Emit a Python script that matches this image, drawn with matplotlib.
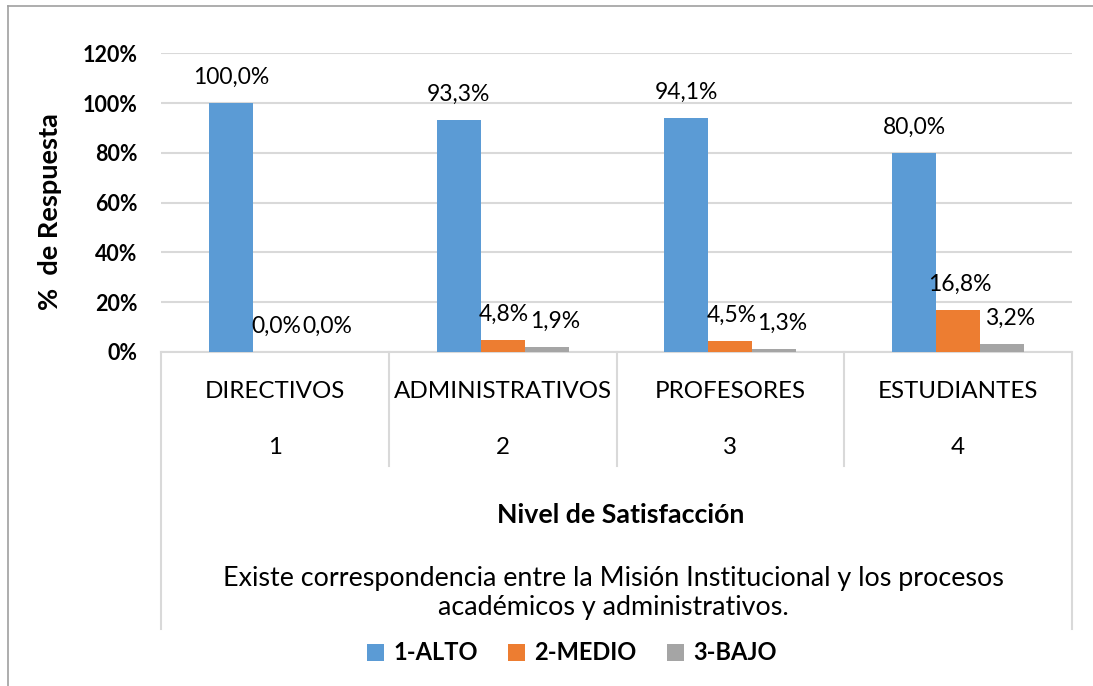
import matplotlib
matplotlib.use("Agg")
import matplotlib.pyplot as plt
import matplotlib.transforms as mtransforms
from matplotlib.lines import Line2D
import numpy as np

plt.rcParams['font.family'] = ['Lato', 'DejaVu Sans']

categories = ["DIRECTIVOS", "ADMINISTRATIVOS", "PROFESORES", "ESTUDIANTES"]
cat_numbers = ["1", "2", "3", "4"]
series_names = ["1-ALTO", "2-MEDIO", "3-BAJO"]
alto = [100.0, 93.3, 94.1, 80.0]
medio = [0.0, 4.8, 4.5, 16.8]
bajo = [0.0, 1.9, 1.3, 3.2]
yticks = [0, 20, 40, 60, 80, 100, 120]
colors = ["#5B9BD5", "#ED7D31", "#A5A5A5"]

W, H = 1093, 686
fig = plt.figure(figsize=(W / 100, H / 100), dpi=100)

def fx(x):
    return x / W

def fy(y):
    return 1 - y / H

ax = fig.add_axes([fx(161), fy(352), fx(1072) - fx(161), fy(53.3) - fy(352)])

x = np.arange(len(categories))
bw = 0.193
series = [alto, medio, bajo]
label_dx = [0, 1, 6]  # small horizontal nudges (points) per series, like the original
bars = []
for i, (vals, col, name) in enumerate(zip(series, colors, series_names)):
    b = ax.bar(x + (i - 1) * bw, vals, width=bw, color=col, label=name, zorder=3)
    bars.append(b)
    for xi, v in zip(x + (i - 1) * bw, vals):
        ax.annotate(f"{v:.1f}%".replace(".", ","), xy=(xi, v), xytext=(label_dx[i], 18.5),
                    textcoords="offset points", ha="center", va="center",
                    fontsize=16.5, color="#000000", zorder=4)

ax.set_xlim(-0.5, 3.5)
ax.set_ylim(0, 120)
ax.set_yticks(yticks)
ax.set_yticklabels([f"{t}%" for t in yticks], fontsize=15.5, fontweight="bold")
ax.tick_params(axis="y", length=0, pad=17)
ax.set_xticks([])
ax.grid(axis="y", color="#D9D9D9", linewidth=1.5, zorder=0)
for s in ["top", "right", "left"]:
    ax.spines[s].set_visible(False)
ax.spines["bottom"].set_color("#D9D9D9")
ax.spines["bottom"].set_linewidth(1.5)

# multi-level category axis
bt = mtransforms.blended_transform_factory(ax.transData, fig.transFigure)
bounds = np.arange(len(categories) + 1) - 0.5
for k, bx in enumerate(bounds):
    ybot = 629 if k in (0, len(bounds) - 1) else 466
    fig.add_artist(Line2D([bx, bx], [fy(352), fy(ybot)], transform=bt,
                          color="#D9D9D9", linewidth=1.5))
for xi, lab, num in zip(x, categories, cat_numbers):
    fig.text(xi, fy(391), lab, transform=bt, ha="center", va="center", fontsize=17.4)
    fig.text(xi, fy(447), num, transform=bt, ha="center", va="center", fontsize=17.4)

fig.text(fx(620.5), fy(515), "Nivel de Satisfacción", ha="center", va="center",
         fontsize=19.3, fontweight="bold")
fig.text(fx(613.5), fy(593), "Existe correspondencia entre la Misión Institucional y los procesos\nacadémicos y administrativos.",
         ha="center", va="center", fontsize=19.4, linespacing=1.2)

fig.text(fx(50), fy(212), "%  de Respuesta", rotation=90, ha="center", va="center",
         fontsize=19.5, fontweight="bold")

# outer chart border
fig.add_artist(Line2D([fx(8), fx(8)], [fy(6), 0], transform=fig.transFigure,
                      color="#A0A0A0", linewidth=1.2))
fig.add_artist(Line2D([fx(8), 1], [fy(6), fy(6)], transform=fig.transFigure,
                      color="#A0A0A0", linewidth=1.2))

leg = fig.legend(handles=bars, labels=series_names, loc="center",
                 bbox_to_anchor=(fx(572), fy(653)), ncol=3, frameon=False,
                 prop={"weight": "bold", "size": 17}, handlelength=0.7,
                 handleheight=0.7, handletextpad=0.4, columnspacing=1.3)

fig.savefig("out.png", dpi=100)
